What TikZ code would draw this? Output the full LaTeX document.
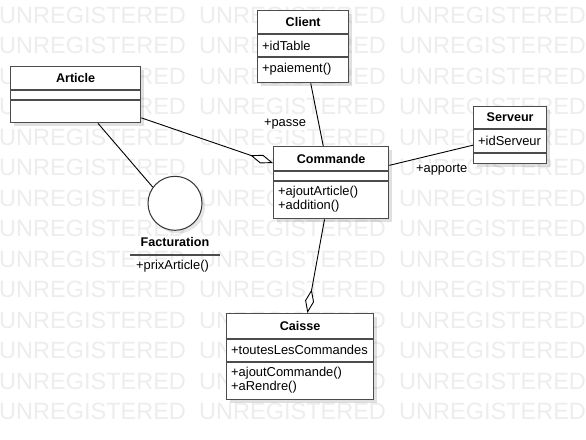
\documentclass[tikz,border=0pt]{standalone}
\usepackage{fontspec}
\setmainfont{Liberation Sans}
\usetikzlibrary{arrows.meta,calc,shadows}
\tikzset{
  x=1pt, y=-1pt,
  wm/.style={text=black!7, font=\fontsize{23.5}{23.5}\selectfont, anchor=base west, inner sep=0pt},
  classbox/.style={draw=black!70, line width=1.3pt, fill=white, anchor=north west, inner sep=0pt,
    drop shadow={shadow xshift=3pt, shadow yshift=-3pt, opacity=0.12, fill=black}},
  circbox/.style={circle, draw=black!80, line width=1pt, fill=white, inner sep=0pt, minimum size=54pt,
    drop shadow={shadow xshift=3pt, shadow yshift=-3pt, opacity=0.10, fill=black}},
  sepline/.style={draw=black!70, line width=1.3pt},
  title/.style={font=\fontsize{12.6}{15}\selectfont\bfseries, inner sep=1pt},
  member/.style={font=\fontsize{12.9}{15}\selectfont, anchor=west, inner sep=0pt},
  lbl/.style={font=\fontsize{12.9}{15}\selectfont, fill=white, inner sep=1pt},
  conn/.style={draw=black, line width=0.9pt},
  agg/.style={-{Diamond[fill=white, length=24pt, width=9pt, line width=0.9pt]}},
}
\begin{document}
\begin{tikzpicture}
\useasboundingbox (0,0) rectangle (586,439);
\fill[white] (0,0) rectangle (586,439);
% watermark
\foreach \r in {0,...,13}{
  \foreach \c in {0,1,2}{
    \node[wm] (wm-\r-\c) at (-1+200*\c, 23.4+30.5*\r) {UNREGISTERED};
  }
}
% class boxes
\node[classbox, minimum width=91pt, minimum height=72pt] (client) at (257,10) {};
\node[classbox, minimum width=130pt, minimum height=56pt] (article) at (10,66) {};
\node[classbox, minimum width=73pt, minimum height=57pt] (serveur) at (473,106) {};
\node[classbox, minimum width=115pt, minimum height=72pt] (commande) at (273,146) {};
\node[classbox, minimum width=147pt, minimum height=86pt] (caisse) at (226,313) {};
\node[circbox] (fact) at (175,203.3) {};

% Client
\node[title] (client-t) at (client.north |- 0,22) {Client};
\draw[sepline] (client.west |- 0,34) -- (client.east |- 0,34);
\node[member] (client-a) at (262,45.5) {+idTable};
\draw[sepline] (client.west |- 0,57) -- (client.east |- 0,57);
\node[member] (client-m) at (262,69.5) {+paiement()};

% Article
\node[title] (article-t) at (article.north |- 0,78) {Article};
\draw[sepline] (article.west |- 0,90) -- (article.east |- 0,90);
\draw[sepline] (article.west |- 0,100) -- (article.east |- 0,100);

% Serveur
\node[title] (serveur-t) at (serveur.north |- 0,117.5) {Serveur};
\draw[sepline] (serveur.west |- 0,129) -- (serveur.east |- 0,129);
\node[member] (serveur-a) at (478,141) {+idServeur};
\draw[sepline] (serveur.west |- 0,153) -- (serveur.east |- 0,153);

% Commande
\node[title] (commande-t) at (commande.north |- 0,158.5) {Commande};
\draw[sepline] (commande.west |- 0,171) -- (commande.east |- 0,171);
\draw[sepline] (commande.west |- 0,181) -- (commande.east |- 0,181);
\node[member] (commande-m1) at (278,191.7) {+ajoutArticle()};
\node[member] (commande-m2) at (278,206) {+addition()};

% Caisse
\node[title] (caisse-t) at (caisse.north |- 0,325.7) {Caisse};
\draw[sepline] (caisse.west |- 0,339) -- (caisse.east |- 0,339);
\node[member] (caisse-a) at (231,349.5) {+toutesLesCommandes};
\draw[sepline] (caisse.west |- 0,362) -- (caisse.east |- 0,362);
\node[member] (caisse-m1) at (231,372.7) {+ajoutCommande()};
\node[member] (caisse-m2) at (231,387.3) {+aRendre()};

% Facturation (interface)
\node[title, fill=white] (fact-t) at (175,241.7) {Facturation};
\draw[sepline] (130,255) -- (220,255);
\node[lbl, inner sep=0.5pt] (fact-m) at (172.5,266.5) {+prixArticle()};

% connectors
\draw[conn] ($(article.south west)!0.67!(article.south east)$) -- (fact.144);
\draw[conn, agg] ($(article.north east)!0.905!(article.south east)$) -- ($(commande.north west)!0.232!(commande.south west)$);
\draw[conn] ($(client.south west)!0.582!(client.south east)$) -- ($(commande.north west)!0.432!(commande.north east)$);
\draw[conn] ($(commande.north east)!0.264!(commande.south east)$) -- ($(serveur.north west)!0.672!(serveur.south west)$);
\draw[conn, agg] ($(commande.south west)!0.443!(commande.south east)$) -- ($(caisse.north west)!0.549!(caisse.north east)$);

% association labels
\node[lbl] (passe) at (285,124) {+passe};
\node[lbl] (apporte) at (441.7,169.3) {+apporte};
\end{tikzpicture}
\end{document}
